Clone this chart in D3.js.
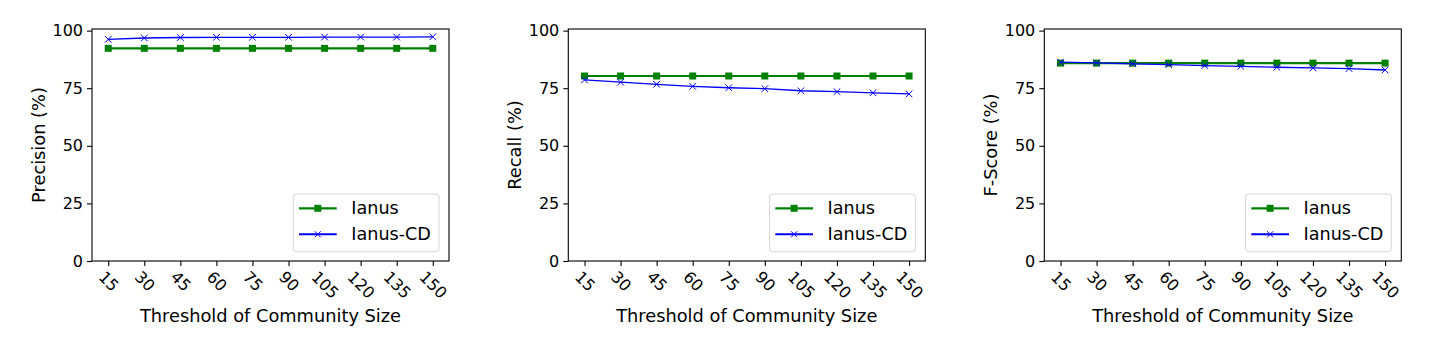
<!DOCTYPE html>
<html>
<head>
<meta charset="utf-8">
<script src="https://cdn.jsdelivr.net/npm/d3@7/dist/d3.min.js"></script>
<style>
  html, body { margin: 0; padding: 0; background: #fff; }
  svg { display: block; font-family: "DejaVu Sans", sans-serif; }
</style>
</head>
<body>
<svg id="chart" width="1429" height="344"></svg>
<script>
// Community size thresholds (x categories)
const thresholds = ["15", "30", "45", "60", "75", "90", "105", "120", "135", "150"];
const yTicks = [0, 25, 50, 75, 100];
const seriesNames = ["Ianus", "Ianus-CD"];

// Precision (%)
const precisionIanus   = [92.3, 92.3, 92.3, 92.3, 92.3, 92.3, 92.3, 92.3, 92.3, 92.3];
const precisionIanusCD = [96.2, 96.8, 97.0, 97.1, 97.1, 97.1, 97.2, 97.2, 97.2, 97.3];
// Recall (%)
const recallIanus   = [80.3, 80.3, 80.3, 80.3, 80.3, 80.3, 80.3, 80.3, 80.3, 80.3];
const recallIanusCD = [78.6, 77.6, 76.7, 75.8, 75.2, 74.8, 73.9, 73.5, 73.0, 72.5];
// F-Score (%)
const fscoreIanus   = [85.9, 85.9, 85.9, 85.9, 85.9, 85.9, 85.9, 85.9, 85.9, 85.9];
const fscoreIanusCD = [86.3, 86.0, 85.6, 85.2, 84.8, 84.5, 84.1, 83.8, 83.5, 82.9];

const panels = [
  { ylabel: "Precision (%)", a: precisionIanus, b: precisionIanusCD },
  { ylabel: "Recall (%)",    a: recallIanus,    b: recallIanusCD },
  { ylabel: "F-Score (%)",   a: fscoreIanus,    b: fscoreIanusCD }
];

const svg = d3.select("#chart");
const W = 357, plotTop = 29, plotBottom = 261;
const lefts = [92, 568.3, 1044.3];
const GREEN = "#008000", BLUE = "#0000ff";

panels.forEach((p, pi) => {
  const x0 = lefts[pi];
  const g = svg.append("g").attr("transform", `translate(${x0},0)`);

  const x = d3.scaleLinear().domain([-0.45, thresholds.length - 1 + 0.45]).range([0, W]);
  const y = d3.scaleLinear().domain([0, 100.7]).range([plotBottom, plotTop]);

  // y axis ticks and labels
  const yAxis = d3.axisLeft(y).tickValues(yTicks).tickSize(5).tickPadding(4).tickFormat(d3.format("d"));
  const ya = g.append("g").call(yAxis);
  ya.select(".domain").remove();
  ya.selectAll("line").attr("stroke", "#000").attr("stroke-width", 1.1);
  ya.selectAll("text").attr("font-size", 16).attr("fill", "#000")
    .attr("font-family", "DejaVu Sans, sans-serif");

  // x axis ticks, labels rotated 45 degrees, centred under each tick
  const xAxis = d3.axisBottom(x).tickValues(d3.range(thresholds.length)).tickSize(5).tickFormat(i => thresholds[i]);
  const xa = g.append("g").attr("transform", `translate(0,${plotBottom})`).call(xAxis);
  xa.select(".domain").remove();
  xa.selectAll("line").attr("stroke", "#000").attr("stroke-width", 1.1);
  xa.selectAll("text")
    .attr("font-size", 16).attr("fill", "#000").attr("font-family", "DejaVu Sans, sans-serif")
    .attr("text-anchor", "middle").attr("dy", null).attr("dominant-baseline", "central")
    .each(function() {
      const t = d3.select(this);
      const len = this.getComputedTextLength();
      const cy = 8.5 + (len + 13) * 0.7071 / 2;
      t.attr("y", cy).attr("transform", `rotate(45,0,${cy})`);
    });

  // plot frame
  g.append("rect").attr("x", 0).attr("y", plotTop).attr("width", W).attr("height", plotBottom - plotTop)
    .attr("fill", "none").attr("stroke", "#000").attr("stroke-width", 1.1);

  const line = d3.line().x((d, i) => x(i)).y(d => y(d));

  // Ianus: green line with square markers
  g.append("path").datum(p.a).attr("d", line)
    .attr("fill", "none").attr("stroke", GREEN).attr("stroke-width", 2.2);
  g.selectAll(".sq").data(p.a).enter().append("rect")
    .attr("x", (d, i) => x(i) - 3.5).attr("y", d => y(d) - 3.5)
    .attr("width", 7).attr("height", 7).attr("fill", GREEN);

  // Ianus-CD: blue line with x markers
  g.append("path").datum(p.b).attr("d", line)
    .attr("fill", "none").attr("stroke", BLUE).attr("stroke-width", 1.3);
  g.selectAll(".xm").data(p.b).enter().append("path")
    .attr("d", (d, i) => {
      const cx = x(i), cy = y(d), r = 3.3;
      return `M${cx - r},${cy - r}L${cx + r},${cy + r}M${cx - r},${cy + r}L${cx + r},${cy - r}`;
    })
    .attr("stroke", BLUE).attr("stroke-width", 1).attr("fill", "none");

  // axis titles
  g.append("text").attr("x", W / 2).attr("y", 321.5).attr("text-anchor", "middle")
    .attr("font-size", 17.8).attr("fill", "#000").text("Threshold of Community Size");
  g.append("text").attr("transform", `translate(-54,${(plotTop + plotBottom) / 2}) rotate(-90)`)
    .attr("text-anchor", "middle").attr("dominant-baseline", "central")
    .attr("font-size", 17.8).attr("fill", "#000").text(p.ylabel);

  // legend, lower right
  const lg = g.append("g").attr("transform", `translate(${W - 155.7},${plotBottom - 67})`);
  lg.append("rect").attr("width", 145.7).attr("height", 57.7).attr("rx", 3)
    .attr("fill", "#fff").attr("fill-opacity", 0.8).attr("stroke", "#d6d6d6").attr("stroke-width", 1);
  seriesNames.forEach((name, k) => {
    const ry = k === 0 ? 14.3 : 40.3;
    const col = k === 0 ? GREEN : BLUE;
    lg.append("line").attr("x1", 5.7).attr("x2", 43.4).attr("y1", ry).attr("y2", ry)
      .attr("stroke", col).attr("stroke-width", k === 0 ? 2.2 : 2);
    if (k === 0) {
      lg.append("rect").attr("x", 24.5 - 3.5).attr("y", ry - 3.5).attr("width", 7).attr("height", 7).attr("fill", col);
    } else {
      const cx = 24.5, r = 3;
      lg.append("path").attr("d", `M${cx - r},${ry - r}L${cx + r},${ry + r}M${cx - r},${ry + r}L${cx + r},${ry - r}`)
        .attr("stroke", col).attr("stroke-width", 1).attr("fill", "none");
    }
    lg.append("text").attr("x", 58).attr("y", ry).attr("dominant-baseline", "central")
      .attr("font-size", 17.6).attr("fill", "#000").text(name);
  });
});
</script>
</body>
</html>
